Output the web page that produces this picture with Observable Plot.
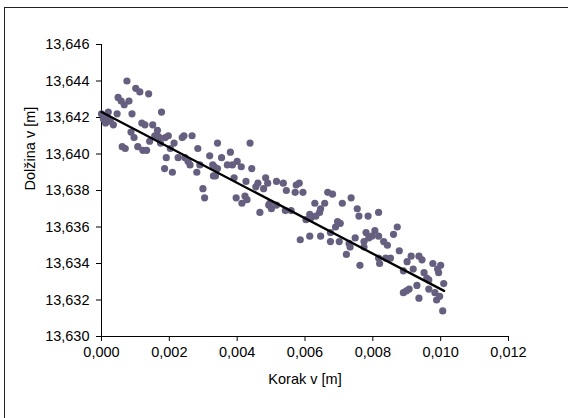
<!DOCTYPE html>
<html>
<head>
<meta charset="utf-8">
<script src="https://cdn.jsdelivr.net/npm/d3@7"></script>
<script src="https://cdn.jsdelivr.net/npm/@observablehq/plot@0.6"></script>
<style>
  html, body { margin: 0; padding: 0; background: #fff; overflow: hidden; }
  #wrap { position: relative; width: 568px; height: 418px; }
  #frame { position: absolute; left: 4px; top: 7px; right: 0; bottom: 0; border-left: 1px solid #222; border-top: 1px solid #222; pointer-events: none; }
</style>
</head>
<body>
<div id="wrap"><div id="frame"></div></div>
<script>
// Korak v [m] (x) and Dolžina v [m] (y)
const korak = [
  0.00000,0.00006,0.00012,0.00020,0.00026,0.00035,0.00012,0.00017,0.00046,0.00049,
  0.00058,0.00067,0.00075,0.00081,0.00090,0.00061,0.00070,0.00087,0.00096,0.00101,
  0.00113,0.00107,0.00122,0.00133,0.00119,0.00128,0.00151,0.00139,0.00142,0.00157,
  0.00165,0.00171,0.00174,0.00177,0.00165,
  0.00188,0.00197,0.00214,0.00238,0.00243,0.00267,0.00203,0.00191,0.00226,0.00246,
  0.00255,0.00261,0.00284,0.00319,0.00290,0.00281,0.00186,0.00209,0.00299,0.00304,
  0.00328,0.00330,0.00342,
  0.00438,0.00354,0.00380,0.00400,0.00412,0.00371,0.00386,0.00333,0.00342,0.00336,
  0.00391,0.00443,0.00426,0.00455,0.00461,0.00478,0.00484,0.00397,0.00423,0.00429,
  0.00414,0.00467,0.00493,
  0.00490,0.00516,0.00536,0.00545,0.00574,0.00583,0.00571,0.00594,0.00496,0.00501,
  0.00516,0.00542,0.00559,0.00629,0.00614,0.00617,0.00603,0.00632,0.00586,0.00614,
  0.00646,
  0.00667,0.00681,0.00710,0.00736,0.00658,0.00646,0.00643,0.00754,0.00759,0.00786,
  0.00817,0.00696,0.00704,0.00690,0.00675,0.00675,0.00701,0.00730,0.00733,0.00780,
  0.00788,0.00797,0.00806,0.00774,0.00774,0.00748,0.00722,0.00762,0.00817,0.00820,
  0.00872,0.00861,0.00817,0.00832,0.00843,0.00878,0.00838,0.00852,0.00901,0.00913,
  0.00936,0.00945,0.00890,0.00919,0.00951,0.00959,0.00965,0.00977,0.00991,0.01000,
  0.00994,0.01009,0.00890,0.00899,0.00907,0.00930,0.00936,0.00983,0.00988,0.01006,
  0.00997,0.00965
];
const dolzina = [
  13.6422,13.6419,13.6421,13.6423,13.6418,13.6416,13.6417,13.6420,13.6422,13.6431,
  13.6429,13.6427,13.6440,13.6429,13.6422,13.6404,13.6403,13.6412,13.6409,13.6436,
  13.6434,13.6404,13.6402,13.6402,13.6417,13.6416,13.6416,13.6433,13.6407,13.6410,
  13.6410,13.6409,13.6406,13.6423,13.6413,
  13.6409,13.6410,13.6406,13.6409,13.6410,13.6410,13.6403,13.6398,13.6398,13.6398,
  13.6396,13.6394,13.6403,13.6399,13.6394,13.6390,13.6392,13.6390,13.6381,13.6376,
  13.6394,13.6388,13.6406,
  13.6406,13.6398,13.6401,13.6396,13.6393,13.6394,13.6394,13.6393,13.6392,13.6388,
  13.6387,13.6392,13.6385,13.6382,13.6384,13.6381,13.6387,13.6376,13.6377,13.6375,
  13.6373,13.6368,13.6372,
  13.6384,13.6385,13.6384,13.6380,13.6383,13.6384,13.6379,13.6379,13.6373,13.6370,
  13.6372,13.6369,13.6369,13.6373,13.6367,13.6365,13.6364,13.6366,13.6353,13.6355,
  13.6355,
  13.6379,13.6378,13.6373,13.6376,13.6373,13.6370,13.6368,13.6370,13.6366,13.6366,
  13.6368,13.6363,13.6362,13.6360,13.6357,13.6352,13.6352,13.6351,13.6349,13.6357,
  13.6354,13.6355,13.6358,13.6352,13.6349,13.6354,13.6345,13.6339,13.6343,13.6340,
  13.6360,13.6356,13.6355,13.6352,13.6350,13.6347,13.6343,13.6343,13.6341,13.6344,
  13.6344,13.6342,13.6336,13.6337,13.6335,13.6332,13.6331,13.6340,13.6337,13.6339,
  13.6335,13.6329,13.6324,13.6325,13.6326,13.6328,13.6321,13.6324,13.6320,13.6314,
  13.6322,13.6326
];
// trend line end points
const trendKorak = [0.0000, 0.0101];
const trendDolzina = [13.6423, 13.6325];
const xTicks = [0, 0.002, 0.004, 0.006, 0.008, 0.010, 0.012];
const yTicks = [13.630, 13.632, 13.634, 13.636, 13.638, 13.640, 13.642, 13.644, 13.646];
const xLabel = ["Korak v [m]"];
const yLabel = ["Dolžina v [m]"];

const data = korak.map((x, i) => ({x, y: dolzina[i]}));
const trend = trendKorak.map((x, i) => ({x, y: trendDolzina[i]}));
const fmt = d => d3.format(".3f")(d).replace(".", ",");

const chart = Plot.plot({
  width: 568,
  height: 418,
  marginLeft: 101,
  marginRight: 60,
  marginTop: 44,
  marginBottom: 82,
  style: {fontFamily: "'Liberation Sans', Arial, sans-serif", fontSize: "14.5px", color: "#000", background: "transparent"},
  x: {domain: [0, 0.012]},
  y: {domain: [13.630, 13.646]},
  marks: [
    Plot.axisX(xTicks, {tickFormat: fmt, tickSize: 5, tickPadding: 5, label: null, stroke: "#000"}),
    Plot.axisY(yTicks, {tickFormat: fmt, tickSize: 5, tickPadding: 7, label: null, stroke: "#000"}),
    Plot.ruleX([0], {stroke: "#000"}),
    Plot.ruleY([13.630], {stroke: "#000"}),
    Plot.dot(data, {x: "x", y: "y", r: 3.6, fill: "#675f80", stroke: "none"}),
    Plot.line(trend, {x: "x", y: "y", stroke: "#000", strokeWidth: 2.3}),
    Plot.text(xLabel, {text: d => d, frameAnchor: "bottom", dy: 47, fill: "#000"}),
    Plot.text(yLabel, {text: d => d, frameAnchor: "left", dx: -71, rotate: -90, fill: "#000"})
  ]
});
document.getElementById("wrap").prepend(chart);
</script>
</body>
</html>
